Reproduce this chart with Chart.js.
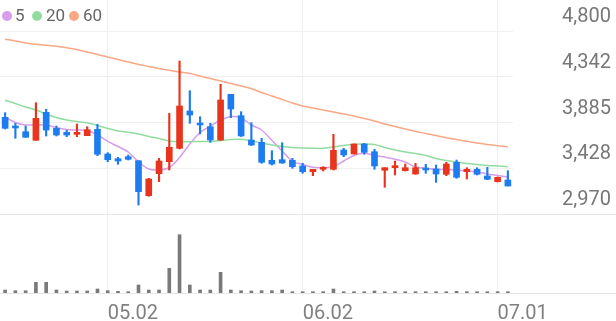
<!DOCTYPE html>
<html>
<head>
<meta charset="utf-8">
<script src="https://cdn.jsdelivr.net/npm/chart.js@4"></script>
<style>
  html, body { margin: 0; padding: 0; background: #fff; }
  #wrap { position: relative; width: 616px; height: 321px; }
  .dot { position: absolute; top: 11px; width: 10px; height: 10px; border-radius: 50%; }
  .lbl { position: absolute; top: 4px; font: 17px Roboto, sans-serif; line-height: 22px; color: #666; }
</style>
</head>
<body>
<div id="wrap">
  <canvas id="stock-chart" width="616" height="321"></canvas>
  <span class="dot" style="left:2px;background:#d79cec"></span><span class="lbl" style="left:15px">5</span>
  <span class="dot" style="left:32px;background:#92dca0"></span><span class="lbl" style="left:46px">20</span>
  <span class="dot" style="left:69px;background:#f9a884"></span><span class="lbl" style="left:83px">60</span>
</div>
<script>
// Trading days shown on the chart
const dates = ['04.17','04.18','04.21','04.22','04.23','04.24','04.25','04.28','04.29','04.30',
    '05.02','05.07','05.08','05.09','05.12','05.13','05.14','05.15','05.16','05.19',
    '05.20','05.21','05.22','05.23','05.26','05.27','05.28','05.29','05.30','06.02',
    '06.04','06.05','06.09','06.10','06.11','06.12','06.13','06.16','06.17','06.18',
    '06.19','06.20','06.23','06.24','06.25','06.26','06.27','06.30','07.01','07.02'];
const shownDates = ['05.02', '06.02', '07.01'];

// Daily prices
const opens  = [3937,3850,3793,3707,3987,3827,3787,3767,3753,3817,3570,3523,3543,3503,3153,3373,3493,3627,4000,3877,
    3843,3710,4167,3953,3710,3687,3507,3513,3507,3450,3393,3417,3417,3610,3570,3670,3593,3407,3433,3403,
    3370,3427,3420,3367,3487,3393,3417,3350,3293,3310];
const highs  = [3983,3877,3850,4083,4017,3850,3807,3870,3843,3867,3583,3537,3560,3503,3327,3527,3977,4500,4203,3943,
    3877,4267,4167,3993,3883,3727,3603,3683,3527,3477,3417,3443,3767,3627,3670,3677,3617,3433,3500,3470,
    3477,3467,3460,3487,3510,3433,3433,3437,3340,3403];
const lows   = [3820,3727,3737,3707,3750,3750,3743,3743,3753,3553,3493,3467,3510,3060,3147,3293,3410,3620,3877,3770,
    3687,3705,3933,3745,3655,3477,3460,3477,3427,3377,3353,3400,3410,3543,3570,3567,3417,3237,3360,3400,
    3367,3377,3287,3353,3327,3320,3360,3313,3290,3250];
const closes = [3827,3830,3737,3927,3810,3760,3760,3780,3813,3567,3513,3500,3517,3193,3320,3500,3637,4050,3960,3860,
    3710,4110,4020,3750,3660,3487,3470,3480,3443,3393,3417,3433,3607,3560,3670,3587,3450,3433,3437,3433,
    3433,3410,3370,3470,3337,3417,3367,3317,3337,3250];

// Moving averages
const ma5  = [3937,3885,3860,3863,3860,3835,3815,3810,3805,3760,3697,3645,3590,3490,3420,3410,3435,3535,3670,3785,
    3850,3910,3943,3930,3860,3810,3705,3600,3497,3465,3437,3433,3445,3500,3555,3577,3555,3540,3517,3490,
    3440,3427,3417,3413,3410,3400,3390,3370,3355,3340];
const ma20 = [4107,4075,4040,4010,3970,3935,3910,3895,3883,3855,3825,3800,3787,3770,3745,3725,3700,3693,3693,3695,
    3695,3705,3715,3717,3702,3680,3660,3645,3635,3630,3627,3627,3640,3655,3667,3670,3665,3635,3610,3590,
    3575,3555,3525,3505,3490,3475,3465,3455,3450,3443];
const ma60 = [4718,4700,4680,4667,4657,4647,4633,4615,4590,4565,4540,4515,4490,4465,4445,4425,4407,4390,4375,4350,
    4325,4300,4275,4250,4223,4185,4150,4115,4080,4050,4030,4010,3990,3970,3950,3925,3900,3870,3845,3820,
    3795,3775,3755,3733,3715,3697,3680,3665,3653,3643];

// Volume (thousand shares)
const volumes = [30,23,23,107,107,30,20,20,20,40,23,17,13,80,30,30,247,583,80,30,
    30,207,30,23,20,23,23,30,13,13,13,13,40,13,13,13,20,13,13,13,
    13,13,13,13,17,13,13,13,13,13];

// Price axis ticks
const priceTicks = [2970, 3427.5, 3885, 4342.5, 4800];
const priceTickLabels = ['2,970', '3,428', '3,885', '4,342', '4,800'];

const UP = '#e8341c';
const DOWN = '#1c7cf0';
const candleColors = opens.map((o, i) => closes[i] >= o ? UP : DOWN);

// Pane split: price pane on top, volume pane (about 27% of height) below
const VOL_SHARE = 79 / 293;
const PRICE_MIN = 2970, PRICE_MAX = 5110, VOL_MAX = 790;

// Light separator lines around the volume pane
const paneLines = {
    id: 'paneLines',
    beforeDatasetsDraw(chart) {
        const { ctx, width } = chart;
        const yv = chart.scales.yv;
        ctx.save();
        ctx.strokeStyle = '#e6e6e6';
        ctx.lineWidth = 1;
        [yv.getPixelForValue(VOL_MAX), yv.getPixelForValue(0)].forEach(y => {
            const py = Math.round(y) + 0.5;
            ctx.beginPath();
            ctx.moveTo(0, py);
            ctx.lineTo(width, py);
            ctx.stroke();
        });
        ctx.restore();
    }
};

function lineSet(label, data, color) {
    return {
        type: 'line', label, data, yAxisID: 'y',
        borderColor: color, borderWidth: 1.5, pointRadius: 0, tension: 0.3, order: 2
    };
}

const ctx = document.getElementById('stock-chart').getContext('2d');
new Chart(ctx, {
    type: 'bar',
    data: {
        labels: dates,
        datasets: [
            lineSet('60', ma60, '#f9a884'),
            lineSet('20', ma20, '#92dca0'),
            lineSet('5', ma5, '#d79cec'),
            {
                label: 'wick', data: lows.map((l, i) => [l, highs[i]]), yAxisID: 'y',
                backgroundColor: candleColors, barThickness: 1.5, grouped: false, order: 1
            },
            {
                label: 'body', data: opens.map((o, i) => [o, closes[i]]), yAxisID: 'y',
                backgroundColor: candleColors, barThickness: 6, minBarLength: 2, grouped: false, order: 0
            },
            {
                label: 'volume', data: volumes, yAxisID: 'yv',
                backgroundColor: '#7a7a7a', barThickness: 3, grouped: false, order: 0
            }
        ]
    },
    options: {
        responsive: false,
        animation: false,
        layout: { padding: 0 },
        plugins: { legend: { display: false }, tooltip: { enabled: false } },
        scales: {
            x: {
                offset: true,
                grid: {
                    offset: false, drawTicks: false,
                    color: c => shownDates.includes(dates[c.index]) ? '#eeeeee' : 'rgba(0,0,0,0)'
                },
                border: { display: false },
                ticks: {
                    autoSkip: false, maxRotation: 0, padding: 9, align: 'start',
                    font: { family: 'Roboto', size: 20 }, color: '#808080',
                    callback: (v, i) => shownDates.includes(dates[i]) ? dates[i] : ''
                },
                afterFit: s => { s.height = 28; s.paddingLeft = 0; s.paddingRight = 0; }
            },
            y: {
                position: 'right',
                min: PRICE_MIN - (PRICE_MAX - PRICE_MIN) * VOL_SHARE / (1 - VOL_SHARE),
                max: PRICE_MAX,
                grid: { color: c => c.tick && c.tick.value > PRICE_MIN ? '#f0f0f0' : 'rgba(0,0,0,0)', drawTicks: false },
                border: { display: false },
                afterBuildTicks: s => { s.ticks = priceTicks.map(v => ({ value: v })); },
                ticks: {
                    autoSkip: false, padding: 49, labelOffset: -14,
                    font: { family: 'Roboto', size: 20 }, color: '#777777',
                    callback: (v, i) => priceTickLabels[i]
                },
                afterFit: s => { s.width = 103; s.paddingTop = 0; s.paddingBottom = 0; }
            },
            yv: {
                position: 'right', display: false,
                min: 0, max: VOL_MAX / VOL_SHARE
            }
        }
    },
    plugins: [paneLines]
});
</script>
</body>
</html>
